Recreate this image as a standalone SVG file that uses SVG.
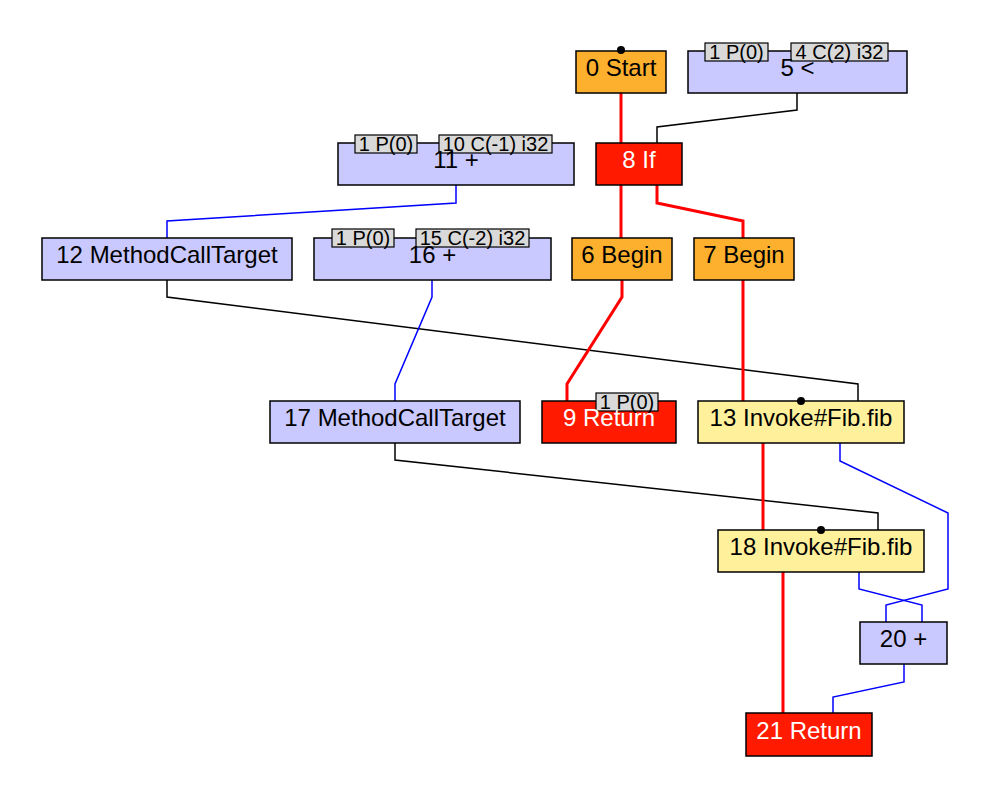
<svg xmlns="http://www.w3.org/2000/svg" width="1000" height="811" viewBox="0 0 1000 811">
<style>
.n{stroke:#000;stroke-width:1.5}
.org{fill:#fdb02e}
.lav{fill:#c9c9ff}
.red{fill:#ff1a00}
.yel{fill:#fff09c}
.t{font-family:"Liberation Sans",Arial,sans-serif;font-size:24px;text-anchor:middle;fill:#000}
.w{fill:#fff}
.lb{fill:#d9d9d9;stroke:#000;stroke-width:1.2}
.lt{font-family:"Liberation Sans",Arial,sans-serif;font-size:20px;text-anchor:middle;fill:#000}
.e{fill:none;stroke-linejoin:miter}
.er{stroke:#ff0000;stroke-width:3}
.ek{stroke:#000;stroke-width:1.5}
.eb{stroke:#0000ff;stroke-width:1.5}
</style>
<rect width="1000" height="811" fill="#fff"/>
<g id="edges" class="e">
<path class="e er" d="M621,93 V143"/>
<path class="e ek" d="M797,93 V110 L657,127 V143"/>
<path class="e er" d="M621,185 V238"/>
<path class="e er" d="M657,185 V203 L743,221 V238"/>
<path class="e eb" d="M456,185 V203 L167,221 V238"/>
<path class="e ek" d="M167,280 V297 L858,384 V401"/>
<path class="e eb" d="M432,280 V297 L395,384 V401"/>
<path class="e er" d="M622,280 V297 L567,384 V401"/>
<path class="e er" d="M743,280 V401"/>
<path class="e ek" d="M395,443 V460 L878,513 V530"/>
<path class="e er" d="M763,443 V530"/>
<path class="e eb" d="M840,443 V461 L948,513 V589 L886,605 V622"/>
<path class="e eb" d="M859,572 V589 L922,605 V622"/>
<path class="e er" d="M783,572 V713"/>
<path class="e eb" d="M904,664 V682 L833,697 V713"/>
</g>
<g id="n0">
<rect class="n org" x="576" y="51" width="90" height="42"/>
<circle cx="621" cy="50" r="4" fill="#000"/>
<text class="t" x="621" y="76">0 Start</text>
</g>
<g id="n5">
<rect class="n lav" x="688" y="51" width="219" height="42"/>
<rect class="lb" x="705" y="43" width="63" height="18"/>
<text class="lt" x="736.5" y="59">1 P(0)</text>
<rect class="lb" x="791" y="43" width="97" height="18"/>
<text class="lt" x="839.5" y="59">4 C(2) i32</text>
<text class="t" x="797.5" y="76">5 &lt;</text>
</g>
<g id="n11">
<rect class="n lav" x="338" y="143" width="236" height="42"/>
<rect class="lb" x="355" y="135" width="62" height="18"/>
<text class="lt" x="386" y="151">1 P(0)</text>
<rect class="lb" x="439" y="135" width="113" height="18"/>
<text class="lt" x="495.5" y="151">10 C(-1) i32</text>
<text class="t" x="456" y="168">11 +</text>
</g>
<g id="n8">
<rect class="n red" x="596" y="143" width="86" height="42"/>
<text class="t w" x="639" y="168">8 If</text>
</g>
<g id="n12">
<rect class="n lav" x="42" y="238" width="250" height="42"/>
<text class="t" x="167" y="263">12 MethodCallTarget</text>
</g>
<g id="n16">
<rect class="n lav" x="314" y="238" width="237" height="42"/>
<rect class="lb" x="332" y="229" width="62" height="18"/>
<text class="lt" x="363" y="245">1 P(0)</text>
<rect class="lb" x="416" y="229" width="113" height="18"/>
<text class="lt" x="472.5" y="245">15 C(-2) i32</text>
<text class="t" x="432.5" y="263">16 +</text>
</g>
<g id="n6">
<rect class="n org" x="572" y="238" width="100" height="42"/>
<text class="t" x="622" y="263">6 Begin</text>
</g>
<g id="n7">
<rect class="n org" x="694" y="238" width="100" height="42"/>
<text class="t" x="744" y="263">7 Begin</text>
</g>
<g id="n17">
<rect class="n lav" x="270" y="401" width="250" height="42"/>
<text class="t" x="395" y="426">17 MethodCallTarget</text>
</g>
<g id="n9">
<rect class="n red" x="542" y="401" width="134" height="42"/>
<rect class="lb" x="596" y="393" width="62" height="18"/>
<text class="lt" x="627" y="409">1 P(0)</text>
<text class="t w" x="609" y="426">9 Return</text>
</g>
<g id="n13">
<rect class="n yel" x="698" y="401" width="206" height="42"/>
<circle cx="801" cy="401" r="4" fill="#000"/>
<text class="t" x="801" y="426">13 Invoke#Fib.fib</text>
</g>
<g id="n18">
<rect class="n yel" x="718" y="530" width="206" height="42"/>
<circle cx="821" cy="530" r="4" fill="#000"/>
<text class="t" x="821" y="555">18 Invoke#Fib.fib</text>
</g>
<g id="n20">
<rect class="n lav" x="860" y="622" width="87" height="42"/>
<text class="t" x="903.5" y="647">20 +</text>
</g>
<g id="n21">
<rect class="n red" x="746" y="713" width="126" height="43"/>
<text class="t w" x="809" y="739">21 Return</text>
</g>
</svg>
